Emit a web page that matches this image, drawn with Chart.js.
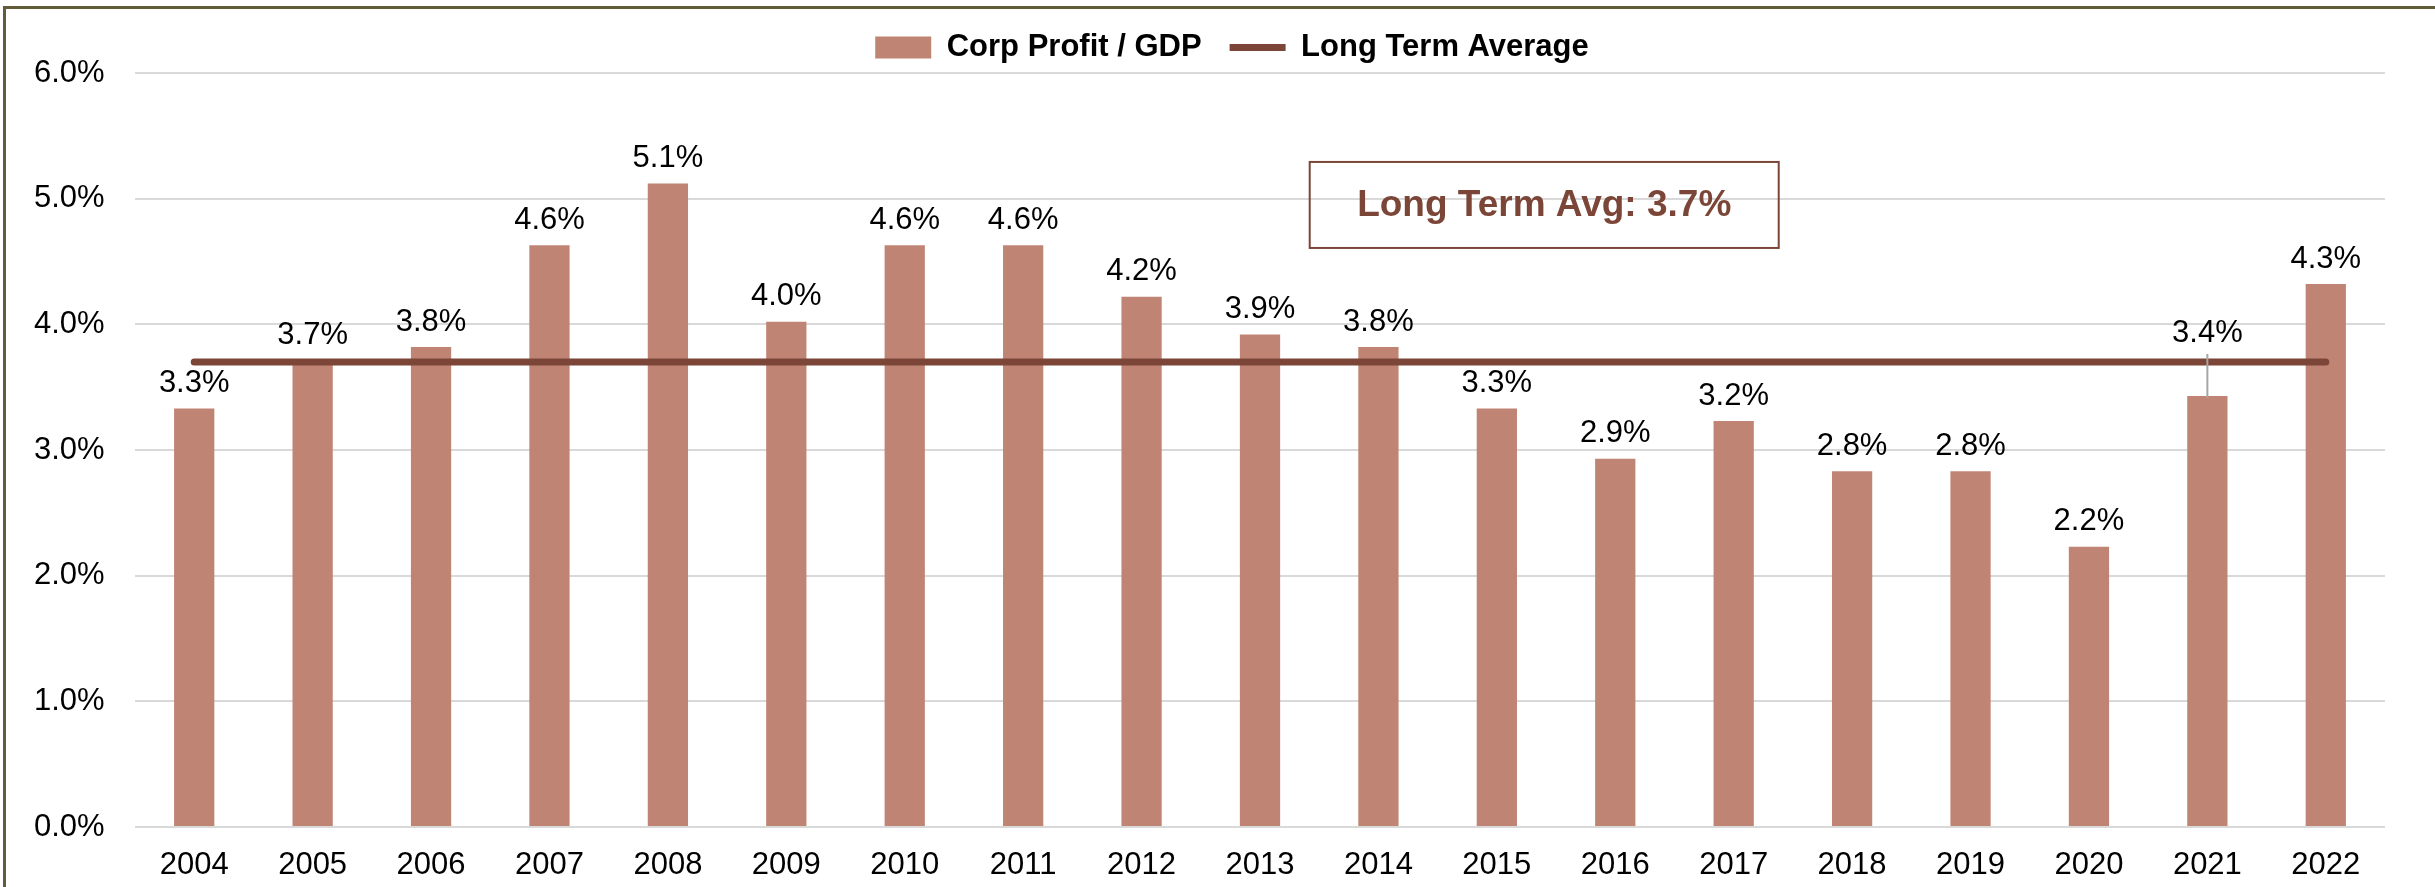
<!DOCTYPE html>
<html>
<head>
<meta charset="utf-8">
<script src="https://cdn.jsdelivr.net/npm/chart.js@4.4.1/dist/chart.umd.min.js"></script>
<style>
    html, body { margin: 0; padding: 0; background: #fff; }
    #wrap { position: relative; width: 2435px; height: 887px; overflow: hidden; }
    #frame {
        position: absolute; left: 3px; top: 6px; right: -10px; bottom: -10px;
        border-top: 3px solid #625c3a; border-left: 3px solid #625c3a;
        pointer-events: none;
    }
</style>
</head>
<body>
<div id="wrap">
    <canvas id="profit-chart" width="2435" height="887"></canvas>
    <div id="frame"></div>
</div>
<script>
    const years = ['2004', '2005', '2006', '2007', '2008', '2009', '2010', '2011', '2012', '2013',
        '2014', '2015', '2016', '2017', '2018', '2019', '2020', '2021', '2022'];
    const profitPct = [3.33, 3.71, 3.82, 4.63, 5.12, 4.02, 4.63, 4.63, 4.22, 3.92,
        3.82, 3.33, 2.93, 3.23, 2.83, 2.83, 2.23, 3.43, 4.32];
    const longTermAvg = 3.7;
    const avgSpan = ['2004', '2022'];
    const raisedLabels = ['2021'];
    const avgNote = 'Long Term Avg: 3.7%';

    const barColor = '#c08474';
    const avgColor = '#7b4637';
    const fontFamily = '"Liberation Sans", Arial, Helvetica, sans-serif';

    Chart.defaults.font.family = fontFamily;
    Chart.defaults.color = '#000';

    // value labels above each bar, 2021 is pushed up with a leader line
    const barLabels = {
        id: 'barLabels',
        afterDatasetsDraw(chart) {
            const ctx = chart.ctx;
            const meta = chart.getDatasetMeta(0);
            ctx.save();
            ctx.font = '31px ' + fontFamily;
            ctx.fillStyle = '#000';
            ctx.textAlign = 'center';
            ctx.textBaseline = 'middle';
            meta.data.forEach(function (bar, i) {
                let txt = profitPct[i].toFixed(1) + '%';
                if (raisedLabels.includes(years[i])) {
                    ctx.strokeStyle = '#a6a6a6';
                    ctx.lineWidth = 2;
                    ctx.beginPath();
                    ctx.moveTo(bar.x, bar.y + 2);
                    ctx.lineTo(bar.x, bar.y - 42);
                    ctx.stroke();
                    ctx.fillText(txt, bar.x, bar.y - 63);
                } else {
                    ctx.fillText(txt, bar.x, bar.y - 25);
                }
            });
            ctx.restore();
        }
    };

    const avgBox = {
        id: 'avgBox',
        afterDatasetsDraw(chart) {
            const ctx = chart.ctx;
            let cx = chart.scales.x.getPixelForValue(11.4);
            let cy = chart.scales.y.getPixelForValue(4.95);
            let w = 469, h = 86;
            ctx.save();
            ctx.strokeStyle = avgColor;
            ctx.lineWidth = 2;
            ctx.strokeRect(cx - w / 2, cy - h / 2, w, h);
            ctx.font = 'bold 37px ' + fontFamily;
            ctx.fillStyle = avgColor;
            ctx.textAlign = 'center';
            ctx.textBaseline = 'middle';
            ctx.fillText(avgNote, cx, cy + 1);
            ctx.restore();
        }
    };

    new Chart(document.getElementById('profit-chart').getContext('2d'), {
        type: 'bar',
        data: {
            labels: years,
            datasets: [
                {
                    label: 'Corp Profit / GDP',
                    data: profitPct,
                    backgroundColor: barColor,
                    borderWidth: 0,
                    barPercentage: 0.34,
                    categoryPercentage: 1,
                    pointStyle: 'rect',
                    order: 1
                },
                {
                    type: 'line',
                    label: 'Long Term Average',
                    data: avgSpan.map(function (yr) { return {x: yr, y: longTermAvg}; }),
                    borderColor: avgColor,
                    backgroundColor: avgColor,
                    borderWidth: 7,
                    borderCapStyle: 'round',
                    pointRadius: 0,
                    pointStyle: 'line',
                    clip: false,
                    order: 0
                }
            ]
        },
        options: {
            responsive: false,
            animation: false,
            layout: {
                padding: {left: 79, right: 50, top: 4, bottom: 0}
            },
            scales: {
                x: {
                    grid: {display: false, drawTicks: false},
                    border: {display: false},
                    ticks: {
                        font: {size: 31},
                        color: '#000',
                        padding: 20,
                        maxRotation: 0
                    },
                    afterFit: function (scale) { scale.height = 60; }
                },
                y: {
                    min: 0,
                    max: 6,
                    ticks: {
                        stepSize: 1,
                        font: {size: 31},
                        color: '#000',
                        mirror: true,
                        crossAlign: 'near',
                        padding: -101,
                        callback: function (v) { return Number(v).toFixed(1) + '%'; }
                    },
                    grid: {color: '#d9d9d9', lineWidth: 2, drawTicks: false},
                    border: {display: false},
                    afterFit: function (scale) { scale.width = 56; }
                }
            },
            plugins: {
                legend: {
                    display: true,
                    labels: {
                        usePointStyle: true,
                        pointStyleWidth: 56,
                        boxHeight: 22,
                        padding: 28,
                        color: '#000',
                        font: {size: 31, weight: 'bold'},
                        sort: function (a, b) { return a.datasetIndex - b.datasetIndex; }
                    }
                },
                tooltip: {enabled: false}
            }
        },
        plugins: [barLabels, avgBox]
    });
</script>
</body>
</html>
